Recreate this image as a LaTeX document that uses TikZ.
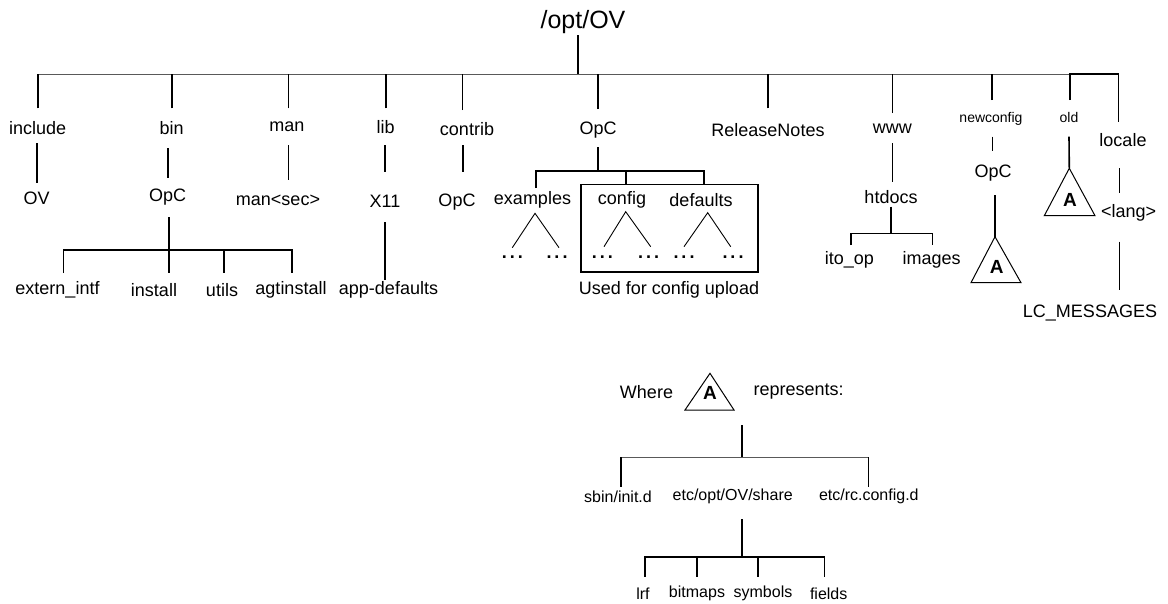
\documentclass[tikz,border=0pt]{standalone}
\usepackage{fontspec}
\setmainfont{Liberation Sans}
\begin{document}
\begin{tikzpicture}[x=1pt,y=-1pt,
  lbl/.style={inner sep=0pt, font=\fontsize{18}{20}\selectfont},
  sml/.style={inner sep=0pt, font=\fontsize{14}{16}\selectfont},
  leg/.style={inner sep=0pt, font=\fontsize{16}{18}\selectfont},
  big/.style={inner sep=0pt, font=\fontsize{25}{28}\selectfont},
  bigA/.style={inner sep=0pt, font=\fontsize{19}{21}\selectfont\bfseries},
  dts/.style={inner sep=0pt, font=\fontsize{18}{20}\selectfont\bfseries},
  vl/.style={line width=1.6pt, black},
  hb/.style={line width=0.9pt, black!65},
  wedge/.style={line width=0.9pt, black},
  tri/.style={line width=1pt, black, line join=miter},
]
\fill[white] (0,0) rectangle (1168,603);
\useasboundingbox (0,0) rectangle (1168,603);

% ---------- root ----------
\node[big] (root) at (583,21.7) {/opt/OV};
\coordinate (rootj) at (577.7,74);
\draw[vl] ([xshift=-5.3pt,yshift=-13.3pt]root.center) -- (rootj);
\coordinate (barL) at (37.7,74);
\coordinate (barR) at (1070,74);
\draw[hb] (barL) -- (barR);

% ---------- level 1 ----------
\node[lbl] (inc) at (37.7,128.3) {include};
\node[lbl] (bin) at (171.7,128.3) {bin};
\node[lbl] (man) at (287,126.7) {man};
\node[lbl] (lib) at (385.7,126.7) {lib};
\node[lbl] (contrib) at (467,129) {contrib};
\node[lbl] (opc) at (598,130) {OpC};
\node[lbl] (rel) at (768,130) {ReleaseNotes};
\node[lbl] (www) at (892.3,128.3) {www};
\node[sml] (newc) at (991,119.3) {newconfig};
\node[sml] (old) at (1069,117.5) {old};
\node[lbl] (locale) at (1123,140.5) {locale};

\draw[vl] ([yshift=20pt]inc.center) -- +(0,-34.3);
\draw[vl] ([yshift=20pt]bin.center) -- +(0,-34.3);
\draw[vl] ([xshift=1.3pt,yshift=18.4pt]man.center) -- +(0,-34.3);
\draw[vl] ([yshift=18.4pt]lib.center) -- +(0,-34.3);
\draw[vl] ([xshift=-4.7pt,yshift=19pt]contrib.center) -- +(0,-36);
\draw[vl] ([yshift=21pt]opc.center) -- +(0,-35);
\draw[vl] ([xshift=-0.3pt,yshift=21.7pt]rel.center) -- +(0,-34.3);
\draw[vl] ([yshift=15.3pt]www.center) -- +(0,-39);
\draw[vl] ([xshift=0.7pt,yshift=19.3pt]newc.center) -- +(0,-26);
\draw[vl] ([xshift=1pt,yshift=17.5pt]old.center) -- (barR) -- (1118.3,74)
   -- ([xshift=-4.7pt,yshift=18.8pt]locale.center);

% ---------- level 2 ----------
\node[lbl] (ov) at (36.7,198) {OV};
\node[lbl] (binopc) at (167.7,196.7) {OpC};
\node[lbl] (mansec) at (278,200) {man<sec>};
\node[lbl] (x11) at (385,201.7) {X11};
\node[lbl] (copc) at (457,201.7) {OpC};
\node[lbl] (htdocs) at (891,196.7) {htdocs};
\node[lbl] (nopc) at (993,173.3) {OpC};
\node[lbl] (lang) at (1128.7,213.3) {<lang>};

\draw[vl] ([xshift=-1pt,yshift=-14.7pt]inc.center) -- ([yshift=15pt]ov.center);
\draw[vl] ([xshift=-4pt,yshift=-19.7pt]bin.center) -- ([yshift=18.7pt]binopc.center);
\draw[vl] ([xshift=1.3pt,yshift=-18.3pt]man.center) -- ([xshift=10.3pt,yshift=20pt]mansec.center);
\draw[vl] ([xshift=-0.7pt,yshift=-18.3pt]lib.center) -- ([yshift=29.7pt]x11.center);
\draw[vl] ([xshift=-4pt,yshift=-16pt]contrib.center) -- ([xshift=6pt,yshift=29.7pt]copc.center);
\draw[vl] ([yshift=-14.7pt]www.center) -- ([xshift=1.3pt,yshift=14.7pt]htdocs.center);
\draw[vl] ([xshift=1.3pt,yshift=-17.4pt]newc.center) -- ([xshift=-0.7pt,yshift=22.6pt]nopc.center);
\draw[vl] ([xshift=-3.7pt,yshift=-27.5pt]locale.center) -- ([xshift=-9.4pt,yshift=20.3pt]lang.center);

% ---------- bin/OpC subtree ----------
\node[lbl] (ext) at (57.5,290) {extern\_intf};
\node[lbl] (inst) at (154,290) {install};
\node[lbl] (utils) at (222,290) {utils};
\node[lbl] (agt) at (291,290) {agtinstall};
\draw[vl] ([xshift=1.3pt,yshift=-20.3pt]binopc.center) -- ([xshift=15pt,yshift=17pt]inst.center);
\draw[vl] ([xshift=5.8pt,yshift=17pt]ext.center) -- (63.3,250) -- (291.7,250) -- ([xshift=0.7pt,yshift=17pt]agt.center);
\draw[vl] (224,250) -- ([xshift=2pt,yshift=17pt]utils.center);

% ---------- lib/X11 ----------
\node[lbl] (appdef) at (388.5,290) {app-defaults};
\draw[vl] ([yshift=-20.3pt]x11.center) -- ([xshift=-3.5pt,yshift=10pt]appdef.center);

% ---------- OpC subtree ----------
\node[lbl] (examples) at (532.5,200) {examples};
\node[lbl] (config) at (622,200) {config};
\node[lbl] (defaults) at (701,200) {defaults};
\coordinate (opcj) at (598,171);
\draw[vl] ([yshift=-17pt]opc.center) -- (opcj);
\draw[vl] ([xshift=3.2pt,yshift=12pt]examples.center) -- (535.7,171) -- (704,171)
   -- ([xshift=3pt,yshift=15.7pt]defaults.center);
\draw[vl] (625.7,171) -- ([xshift=3.7pt,yshift=15.7pt]config.center);
\draw[vl] (580.7,184.3) rectangle (757.7,271.7);

\node[dts] (exL) at (512.3,256.7) {.\hspace{3pt}.\hspace{3pt}.};
\node[dts] (exR) at (557,256.7) {.\hspace{3pt}.\hspace{3pt}.};
\node[dts] (cfL) at (602.3,256.7) {.\hspace{3pt}.\hspace{3pt}.};
\node[dts] (cfR) at (648.7,256.7) {.\hspace{3pt}.\hspace{3pt}.};
\node[dts] (dfL) at (684,256.7) {.\hspace{3pt}.\hspace{3pt}.};
\node[dts] (dfR) at (733,256.7) {.\hspace{3pt}.\hspace{3pt}.};
\draw[wedge] ([yshift=9pt]exL.center) -- ([xshift=2.5pt,yshift=-13.3pt]examples.center) -- ([xshift=2pt,yshift=9pt]exR.center);
\draw[wedge] ([xshift=1.7pt,yshift=10pt]cfL.center) -- ([xshift=3.7pt,yshift=-11.7pt]config.center) -- ([xshift=2pt,yshift=10pt]cfR.center);
\draw[wedge] ([yshift=10pt]dfL.center) -- ([xshift=6.7pt,yshift=-12.7pt]defaults.center) -- ([xshift=-2.3pt,yshift=10pt]dfR.center);
\node[lbl] (used) at (669,290) {Used for config upload};

% ---------- www subtree ----------
\node[lbl] (itoop) at (849.3,260) {ito\_op};
\node[lbl] (images) at (931.7,260) {images};
\draw[vl] ([yshift=-10pt]htdocs.center) -- (891,233.3);
\draw[vl] ([xshift=1.7pt,yshift=15pt]itoop.center) -- (851,233.3) -- (932.3,233.3)
   -- ([xshift=0.6pt,yshift=15pt]images.center);

% ---------- newconfig triangle ----------
\coordinate (apexB) at (995,236.7);
\draw[vl] ([xshift=2pt,yshift=-21.7pt]nopc.center) -- (apexB);
\draw[tri] (apexB) -- (1021,282.7) -- (971,282.7) -- cycle;
\node[bigA] (aB) at (996.7,266.7) {A};

% ---------- old triangle ----------
\coordinate (apexC) at (1069.3,168.3);
\draw[vl] ([yshift=-19.2pt]old.center) -- (apexC);
\draw[tri] (apexC) -- (1095,215.7) -- (1044.3,215.7) -- cycle;
\node[bigA] (aC) at (1070,200) {A};

% ---------- locale ----------
\node[lbl] (lc) at (1090,313.3) {LC\_MESSAGES};
\draw[vl] ([xshift=-9.4pt,yshift=-28.4pt]lang.center) -- ([xshift=29.3pt,yshift=23.3pt]lc.center);

% ---------- legend ----------
\node[lbl] (where) at (646.5,391.7) {Where};
\coordinate (apexD) at (710,373.3);
\draw[tri] (apexD) -- (734,410) -- (685,410) -- cycle;
\node[bigA] (aD) at (710,393.3) {A};
\node[lbl] (repr) at (798.7,391.7) {represents:};

\coordinate (legtop) at (741.7,425);
\coordinate (legj) at (741.7,457.3);
\draw[vl] (legtop) -- (legj);
\draw[hb] (621,457.3) -- (868.3,457.3);
\node[leg] (sbin) at (618,496.7) {sbin/init.d};
\node[leg] (share) at (732.7,496.7) {etc/opt/OV/share};
\node[leg] (rc) at (868.8,496.7) {etc/rc.config.d};
\draw[vl] (621,457.3) -- ([xshift=3pt,yshift=10pt]sbin.center);
\draw[vl] (868.3,457.3) -- ([xshift=-0.5pt,yshift=10pt]rc.center);

\node[leg] (lrf) at (643,593.3) {lrf};
\node[leg] (bitmaps) at (697,593.3) {bitmaps};
\node[leg] (symbols) at (763,593.3) {symbols};
\node[leg] (fields) at (828.7,593.3) {fields};
\draw[vl] ([xshift=9pt,yshift=-22.6pt]share.center) -- (741.7,556.7);
\draw[vl] ([xshift=2pt,yshift=16.6pt]lrf.center) -- (645,556.7) -- (824.3,556.7)
   -- ([xshift=-4.4pt,yshift=16.6pt]fields.center);
\draw[vl] ([xshift=-0.3pt,yshift=16.6pt]bitmaps.center) -- (696.7,556.7);
\draw[vl] ([xshift=-5.3pt,yshift=16.6pt]symbols.center) -- (757.7,556.7);
\end{tikzpicture}
\end{document}
